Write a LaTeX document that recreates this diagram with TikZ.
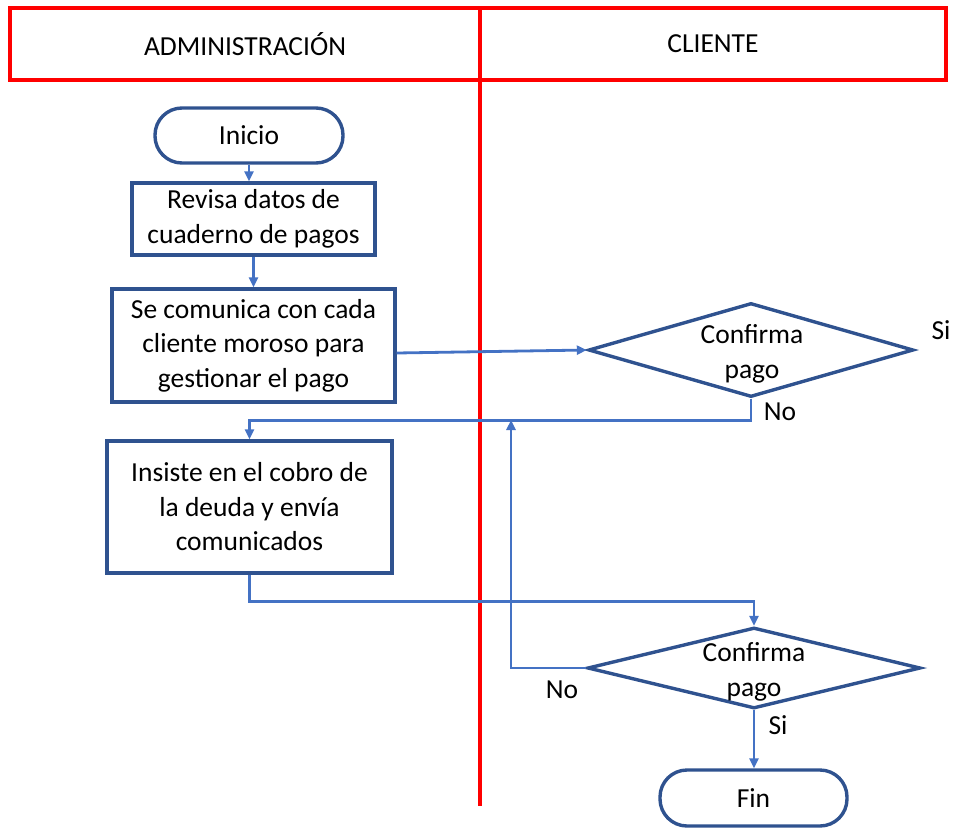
\documentclass[tikz,border=0pt]{standalone}
\usepackage{fontspec}
\setmainfont{Carlito}
\usetikzlibrary{shapes.geometric,arrows.meta}
\definecolor{boxblue}{HTML}{2F528F}
\definecolor{linkblue}{HTML}{4472C4}
\definecolor{lanered}{HTML}{FF0000}
\begin{document}
\begin{tikzpicture}[x=1pt,y=-1pt,
  every node/.style={font=\fontsize{27.5}{34.5}\selectfont, text=black},
  procbox/.style={draw=boxblue, line width=3.4pt, fill=white, align=center, inner sep=0pt},
  termbox/.style={procbox, rounded corners=27pt},
  decbox/.style={draw=boxblue, line width=3.4pt, diamond, inner sep=0pt},
  link/.style={draw=linkblue, line width=2.8pt, -{Triangle[length=10pt,width=9pt]}},
  lane/.style={draw=lanered, line width=3.4pt}
]
\useasboundingbox (0,0) rectangle (956,828);

% swimlane header and divider
\draw[lane] (10,8) rectangle (946,80);
\coordinate (laneTop) at (480,8);
\coordinate (laneBot) at (480,806);
\draw[lane] (laneTop) -- (laneBot);
\node (hAdmin) at (245,44) {ADMINISTRACIÓN};
\node (hCli) at (713,44) {CLIENTE};

% process steps
\node[termbox, minimum width=188pt, minimum height=55pt] (inicio) at (249,135.5) {Inicio};
\node[procbox, minimum width=243pt, minimum height=72pt] (revisa) at (253.5,219) {Revisa datos de\\cuaderno de pagos};
\node[procbox, minimum width=283pt, minimum height=113pt] (secom) at (253.5,345.5) {Se comunica con cada\\cliente moroso para\\gestionar el pago};
\node[procbox, minimum width=285pt, minimum height=132pt] (insiste) at (249.5,507) {Insiste en el cobro de\\la deuda y envía\\comunicados};

% decisions
\node[decbox, minimum width=325pt, minimum height=94pt] (d1) at (751,350) {};
\node[align=center] (d1t) at (752,354) {Confirma\\pago};
\node[decbox, minimum width=333pt, minimum height=81pt] (d2) at (754,668) {};
\node[align=center] (d2t) at (754,672) {Confirma\\pago};

\node[termbox, minimum width=187pt, minimum height=56pt] (fin) at (753.5,798) {Fin};

% branch labels
\node (si1) at (941,330) {Si};
\node (no1) at (780,412) {No};
\node (no2) at (562,690) {No};
\node (si2) at (778,725) {Si};

% connectors
\coordinate (loopEnd) at (511,420);
\draw[link] (inicio.south) -- (inicio.south |- revisa.north);
\draw[link] (revisa.south) -- (revisa.south |- secom.north);
\draw[link] ([yshift=-7.5pt]secom.east) -- (d1.west);
\draw[link] (d1.south) -- ++(0,22) -| (insiste.north);
\draw[link] (insiste.south) -- ++(0,27) -| (d2.north);
\draw[link] (d2.west) -| (loopEnd);
\draw[link] (d2.south) -- (d2.south |- fin.north);
\end{tikzpicture}
\end{document}
